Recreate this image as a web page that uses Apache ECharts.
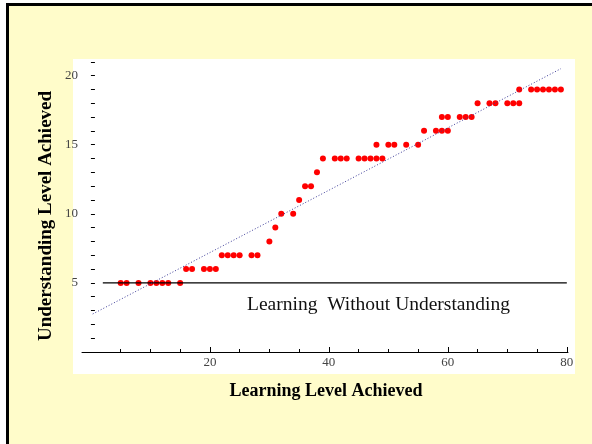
<!DOCTYPE html>
<html>
<head>
<meta charset="utf-8">
<script src="https://cdn.jsdelivr.net/npm/echarts@6/dist/echarts.min.js"></script>
<style>
  html, body { margin: 0; padding: 0; background: #fff; }
  #main { width: 592px; height: 444px; }
</style>
</head>
<body>
<div id="main"></div>
<script>
// points: learning level (x) and understanding level (y)
var learning = [5, 6, 8, 10, 11, 12, 13, 15,
  16, 17, 19, 20, 21,
  22, 23, 24, 25, 27, 28,
  30, 31, 32, 34, 35, 36, 37, 38,
  39, 41, 42, 43, 45, 46, 47, 48, 49,
  48, 50, 51, 53, 55,
  56, 58, 59, 60,
  59, 60, 62, 63, 64,
  65, 67, 68, 70, 71, 72,
  72, 74, 75, 76, 77, 78, 79];
var understanding = [5, 5, 5, 5, 5, 5, 5, 5,
  6, 6, 6, 6, 6,
  7, 7, 7, 7, 7, 7,
  8, 9, 10, 10, 11, 12, 12, 13,
  14, 14, 14, 14, 14, 14, 14, 14, 14,
  15, 15, 15, 15, 15,
  16, 16, 16, 16,
  17, 17, 17, 17, 17,
  18, 18, 18, 18, 18, 18,
  19, 19, 19, 19, 19, 19, 19];

// dotted trend line ends and the "without understanding" floor
var trendX = [0.3, 79];
var trendY = [2.75, 20.5];
var floorX = [2, 80];
var floorY = [5, 5];

var xMajorTicks = [20, 40, 60, 80];
var xMinorTicks = [5, 10, 15, 25, 30, 35, 45, 50, 55, 65, 70, 75];
var yMajorTicks = [5, 10, 15, 20];
var yMinorTicks = [1, 2, 3, 4, 5, 6, 7, 8, 9, 10, 11, 12, 13, 14, 15, 16, 17, 18, 19, 20, 21];

var serif = '"Liberation Serif", "DejaVu Serif", serif';

var chart = echarts.init(document.getElementById('main'));

var option = {
  backgroundColor: '#ffffff',
  animation: false,
  graphic: [
    {
      type: 'rect', z: -10, silent: true,
      shape: { x: 7.5, y: 4.5, width: 700, height: 600 },
      style: { fill: '#fffcca', stroke: '#000', lineWidth: 3 }
    },
    {
      type: 'rect', z: -9, silent: true,
      shape: { x: 73, y: 59, width: 502, height: 315 },
      style: { fill: '#ffffff' }
    },
    {
      type: 'text', x: 247, y: 305,
      style: { text: 'Learning  Without Understanding', font: '19.5px ' + serif, fill: '#111', verticalAlign: 'middle' }
    },
    {
      type: 'text', x: 326, y: 391,
      style: { text: 'Learning Level Achieved', font: 'bold 18px ' + serif, fill: '#000', align: 'center', verticalAlign: 'middle' }
    },
    {
      type: 'text', x: 46, y: 216, rotation: Math.PI / 2,
      style: { text: 'Understanding Level Achieved', font: 'bold 19px ' + serif, fill: '#000', align: 'center', verticalAlign: 'middle' }
    }
  ],
  grid: { left: 82, top: 59, width: 486, height: 293 },
  xAxis: [
    {
      type: 'value', min: -1.5, max: 80.2, position: 'bottom',
      axisLine: { onZero: false, lineStyle: { color: '#000', width: 1 } },
      axisTick: { inside: true, length: 5, customValues: xMajorTicks, lineStyle: { color: '#000' } },
      axisLabel: { customValues: xMajorTicks, margin: 4, color: '#444', fontFamily: serif, fontSize: 13 },
      splitLine: { show: false }
    },
    {
      type: 'value', min: -1.5, max: 80.2, position: 'bottom',
      axisLine: { show: false, onZero: false },
      axisTick: { inside: true, length: 3, customValues: xMinorTicks, lineStyle: { color: '#000' } },
      axisLabel: { show: false },
      splitLine: { show: false }
    }
  ],
  yAxis: {
    type: 'value', min: 0, max: 21.2,
    axisLine: { show: false, onZero: true },
    axisTick: { inside: true, length: 4, customValues: yMinorTicks, lineStyle: { color: '#000' } },
    axisLabel: { customValues: yMajorTicks, margin: 4, color: '#444', fontFamily: serif, fontSize: 13 },
    splitLine: { show: false }
  },
  series: [
    {
      type: 'line', silent: true, symbol: 'none',
      data: floorX.map(function (x, i) { return [x, floorY[i]]; }),
      lineStyle: { color: '#000', width: 1.3 }
    },
    {
      type: 'line', silent: true, symbol: 'none',
      data: trendX.map(function (x, i) { return [x, trendY[i]]; }),
      lineStyle: { color: '#3c3c98', width: 1, type: [1, 2] }
    },
    {
      type: 'scatter', symbol: 'circle', symbolSize: 6,
      data: learning.map(function (x, i) { return [x, understanding[i]]; }),
      itemStyle: { color: '#ff0000', opacity: 1 }
    }
  ]
};

chart.setOption(option);
</script>
</body>
</html>
